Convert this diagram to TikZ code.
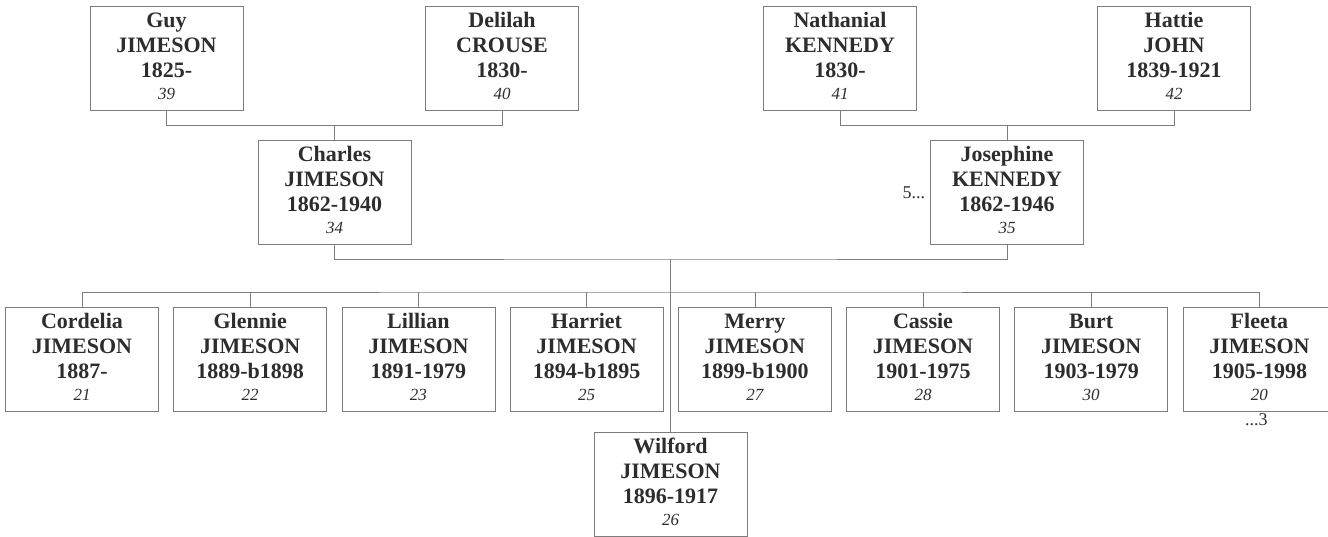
\documentclass[tikz,border=0pt]{standalone}
\usepackage{fontspec}
\setmainfont{Liberation Serif}
\usetikzlibrary{positioning,calc}
\definecolor{inkgray}{RGB}{45,45,45}
\definecolor{linegray}{RGB}{125,125,125}
\newcommand{\idno}[1]{{\fontsize{17}{22}\selectfont\mdseries\itshape #1\rule[-5pt]{0pt}{5pt}}}

\begin{document}
\begin{tikzpicture}[x=1pt, y=1pt, node distance=14.6pt]
  \tikzstyle{person}=[rectangle, draw=linegray, line width=0.6pt, text=inkgray, minimum width=153pt, minimum height=104pt, align=center, inner sep=0pt, font=\fontsize{22}{25}\selectfont\bfseries, execute at begin node=\vphantom{Jy}]
  \tikzstyle{link}=[draw=linegray, line width=0.6pt]
  \tikzstyle{more}=[text=inkgray, font=\fontsize{18}{20}\selectfont, inner sep=2pt]
  \useasboundingbox (0,0) rectangle (1328,-537);
  % grandparents
  \node[person] (guy) at (166.5,-58.5) {Guy\\JIMESON\\1825-\\[-3pt]\idno{39}};
  \node[person] (delilah) at (502,-58.5) {Delilah\\CROUSE\\1830-\\[-3pt]\idno{40}};
  \node[person] (nathanial) at (840,-58.5) {Nathanial\\KENNEDY\\1830-\\[-3pt]\idno{41}};
  \node[person] (hattie) at (1174,-58.5) {Hattie\\JOHN\\1839-1921\\[-3pt]\idno{42}};
  % parents
  \node[person] (charles) at (334.5,-192.5) {Charles\\JIMESON\\1862-1940\\[-3pt]\idno{34}};
  \node[person] (josephine) at (1007,-192.5) {Josephine\\KENNEDY\\1862-1946\\[-3pt]\idno{35}};
  \node[more, left=3pt of josephine] (jmore) {5...};
  % children
  \node[person] (cordelia) at (82,-359.5) {Cordelia\\JIMESON\\1887-\\[-3pt]\idno{21}};
  \node[person, right=of cordelia] (glennie) {Glennie\\JIMESON\\1889-b1898\\[-3pt]\idno{22}};
  \node[person, right=of glennie] (lillian) {Lillian\\JIMESON\\1891-1979\\[-3pt]\idno{23}};
  \node[person, right=of lillian] (harriet) {Harriet\\JIMESON\\1894-b1895\\[-3pt]\idno{25}};
  \node[person, right=of harriet] (merry) {Merry\\JIMESON\\1899-b1900\\[-3pt]\idno{27}};
  \node[person, right=of merry] (cassie) {Cassie\\JIMESON\\1901-1975\\[-3pt]\idno{28}};
  \node[person, right=of cassie] (burt) {Burt\\JIMESON\\1903-1979\\[-3pt]\idno{30}};
  \node[person, right=of burt] (fleeta) {Fleeta\\JIMESON\\1905-1998\\[-3pt]\idno{20}};
  \node[more, below=0pt of fleeta, xshift=-3pt] (fmore) {...3};
  \node[person] (wilford) at (670.5,-484) {Wilford\\JIMESON\\1896-1917\\[-3pt]\idno{26}};
  % connectors
  \coordinate (gd) at ($(charles.north)+(0,15)$);
  \coordinate (nh) at ($(josephine.north)+(0,15)$);
  \coordinate (cj) at (670.5,-259);
  \coordinate (kids) at (670.5,-292);
  \draw[link] (guy.south) |- (gd) -| (delilah.south);
  \draw[link] (gd) -- (charles.north);
  \draw[link] (nathanial.south) |- (nh) -| (hattie.south);
  \draw[link] (nh) -- (josephine.north);
  \draw[link] (charles.south) |- (cj) -| (josephine.south);
  \draw[link] (cj) -- (wilford.north);
  \draw[link] (cordelia.north) |- (kids) -| (fleeta.north);
  \foreach \kid in {glennie,lillian,harriet,merry,cassie,burt}
    \draw[link] (\kid.north) -- (\kid.north |- kids);
\end{tikzpicture}
\end{document}
